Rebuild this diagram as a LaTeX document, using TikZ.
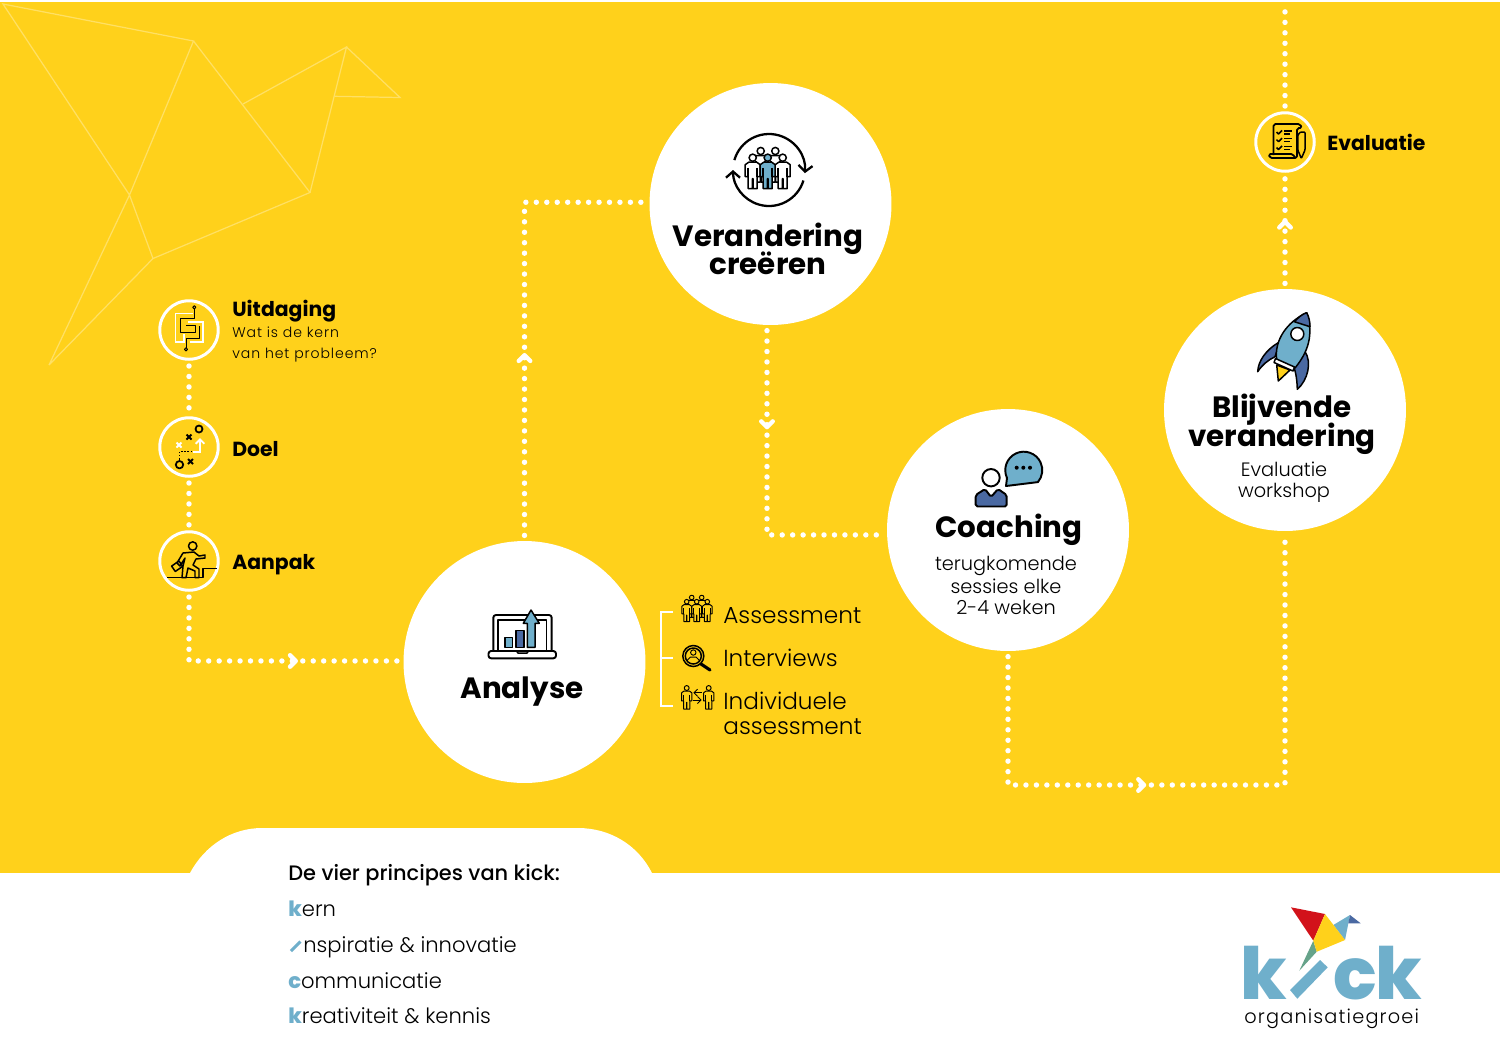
\documentclass[tikz,border=0pt]{standalone}
\usepackage{fontspec}
\setmainfont{Poppins}
\newfontfamily\lightfont{Poppins Light}
\newfontfamily\mediumfont{Poppins Medium}
\newfontfamily\heavyfont{Poppins ExtraBold}
\usetikzlibrary{arrows.meta,decorations.markings}
\definecolor{kickyellow}{RGB}{255,209,27}
\definecolor{foldline}{RGB}{255,224,100}
\definecolor{kickblue}{RGB}{111,175,203}
\definecolor{kickdark}{RGB}{74,105,162}
\definecolor{kickred}{RGB}{210,18,26}
\definecolor{kickgreen}{RGB}{102,163,138}
\newcommand{\fs}[1]{\fontsize{#1}{#1}\selectfont}
\tikzset{
  bigstep/.style={circle,fill=white,minimum size=4.84cm,inner sep=0pt},
  smallstep/.style={circle,draw=white,line width=1.7pt,minimum size=1.17cm,inner sep=0pt},
  dotline/.style={draw=white,line width=3.1pt,line cap=round,dash pattern=on 0pt off 5.95pt,shorten <=3pt,shorten >=3pt},
  chevron/.style={postaction={decorate,decoration={markings,mark=at position #1 with {\draw[white,solid,line width=2.5pt,line cap=round,line join=round] (-5.5,-9.5)--(4,0)--(-5.5,9.5);}}}},
  fold/.style={draw=foldline,line width=.7pt},
  icon/.style={draw=black,line width=.85pt,line join=round},
  thinicon/.style={draw=black,line width=.55pt,line join=round},
  title/.style={font=\fs{16.7}\bfseries,align=center,inner sep=0pt},
  sublabel/.style={font=\fs{11}\lightfont,align=center,inner sep=0pt},
  sidehead/.style={font=\fs{11.6}\bfseries,anchor=base west,inner sep=0pt},
  sidetext/.style={font=\fs{8}\lightfont\addfontfeatures{LetterSpace=6.5},anchor=base west,inner sep=0pt},
  methodtext/.style={font=\fs{13.2}\lightfont,anchor=base west,inner sep=0pt},
  listtext/.style={font=\fs{12}\lightfont,anchor=base west,inner sep=0pt},
  logoletter/.style={font=\fs{41}\heavyfont,text=kickblue,anchor=base west,inner sep=0pt},
  pics/figure/.style={code={
    \draw[pic actions] (0,0) circle (3.6);
    \draw[pic actions] (-7.5,7)--(-4,4.5)--(4,4.5)--(7.5,7)--(7.5,19)--(4.5,19)--(4.5,31)--(.3,31)--(.3,21)--(-.3,21)--(-.3,31)--(-4.5,31)--(-4.5,19)--(-7.5,19)--cycle;
    \draw[pic actions] (-4.5,10)--(-4.5,19) (4.5,10)--(4.5,19);
  }},
  pics/cross/.style={code={\draw[line width=1.1pt] (-2.5,-2.5)--(2.5,2.5) (-2.5,2.5)--(2.5,-2.5);}}
}
\begin{document}
\begin{tikzpicture}[x=0.02cm,y=-0.02cm]
\useasboundingbox (0,0) rectangle (1500,1063);
\fill[white] (0,0) rectangle (1500,1063);
\fill[kickyellow] (0,2) rectangle (1500,873);
\fill[white] (190,873) .. controls (205,845) and (232,828) .. (262,828) -- (578,828) .. controls (610,828) and (638,845) .. (652,873) -- cycle;

\draw[fold] (49,365)--(129.5,195)--(3,4)--(193.5,41)--(129.5,195)--(153,258.5)--(49,365);
\draw[fold] (153,258.5)--(310,192.5)--(193.5,41);
\draw[fold] (243,104)--(346.5,47)--(310,192.5);
\draw[fold] (346.5,47)--(400,97.5)--(334.5,96.3);

\node[bigstep] (verandering) at (770.5,204) {};
\node[bigstep] (analyse) at (524.5,662) {};
\node[bigstep] (coaching) at (1008,530) {};
\node[bigstep] (blijvende) at (1285,410) {};
\node[smallstep] (uitdaging) at (189,330) {};
\node[smallstep] (doel) at (189,447) {};
\node[smallstep] (aanpak) at (189,561) {};
\node[smallstep] (evaluatie) at (1285,142) {};
\coordinate (topend) at (1285,2);
\coordinate (lowbend) at (1285,785);

\draw[dotline] (uitdaging) -- (doel);
\draw[dotline] (doel) -- (aanpak);
\draw[dotline,chevron=.607] (aanpak) |- ([yshift=.6pt]analyse.west);
\draw[dotline,chevron=.392] (analyse.north) |- ([yshift=1pt]verandering.west);
\draw[dotline,chevron=.297] ([xshift=-2pt]verandering.south) |- ([yshift=-2.8pt]coaching.west);
\draw[dotline,chevron=.40] (coaching.south) |- (lowbend) -- (blijvende.south);
\draw[dotline,chevron=.543] (blijvende.north) -- (evaluatie);
\draw[dotline] (evaluatie) -- (topend);

\node[title] (verandertitle) at (768,249) {Verandering\\[-2.5pt]creëren};
\node[title,anchor=base] (analysetitle) at (522,698) {Analyse};
\node[title,anchor=base] (coachingtitle) at (1009,537) {Coaching};
\node[title] (blijvendetitle) at (1282,424.5) {Blijvende\\[-2.5pt]verandering};
\node[sublabel] (coachingtext) at (1006,585.5) {terugkomende\\[.9pt]sessies elke\\[.9pt]2-4 weken};
\node[sublabel] (blijvendetext) at (1284,482.5) {Evaluatie\\[.9pt]workshop};

\node[sidehead] (uitdagingtitle) at (232,316) {Uitdaging};
\node[sidetext] (uitdagingtext) at (232,337) {Wat is de kern};
\node[sidetext] (uitdagingtext2) at (232,358) {van het probleem?};
\node[sidehead] (doeltitle) at (232,456) {Doel};
\node[sidehead] (aanpaktitle) at (232,569) {Aanpak};
\node[sidehead] (evaluatietitle) at (1327,150) {Evaluatie};

\node[methodtext] (assessment) at (723,623) {Assessment};
\node[methodtext] (interviews) at (723,666) {Interviews};
\node[methodtext] (individueel) at (723,709) {Individuele};
\node[methodtext] (individueel2) at (723,734) {assessment};
\draw[white,line width=1.2pt] (673,611.7)--(660.7,611.7)--(660.7,706)--(673,706) (660.7,658.3)--(673,658.3);

\node[listtext,font=\fs{11.9}\mediumfont] (principes) at (288,880) {De vier principes van kick:};
\node[listtext] (kern) at (288,916) {{\color{kickblue}\heavyfont k}ern};
\draw[kickblue,line width=1.7pt] (291,951)--(300.5,941.5);
\node[listtext] (inspiratie) at (303,952) {nspiratie \& innovatie};
\node[listtext] (communicatie) at (288,988) {{\color{kickblue}\heavyfont c}ommunicatie};
\node[listtext] (kreativiteit) at (288,1023) {{\color{kickblue}\heavyfont k}reativiteit \& kennis};

% maze
\draw[white,line width=1pt] (193,313.5)--(175.5,313.5)--(175.5,342)--(184,342)--(184,334);
\draw[white,line width=1pt] (188,322)--(203,322)--(203,342)--(190,342);
\draw[thinicon] (194.3,309)--(194.3,318)--(180,318)--(180,332)--(195,332)--(195,325)--(186,325);
\draw[thinicon] (186,347.5)--(186,338)--(199,338)--(199,326);
\draw[thinicon] (194.3,307.3) circle (1.6) (186,349.3) circle (1.6);

% doel
\draw[icon,line width=1pt] (199,429) circle (3.5) (179.5,464.7) circle (3.7);
\pic[black] at (189,437) {cross};
\pic[black] at (190.5,461.5) {cross};
\pic[white] at (179,445) {cross};
\draw[white,line width=1.1pt,-{Straight Barb[length=2.5pt,width=5pt]}] (193,451.7)--(200,451.7)--(200,438);
\draw[black,line width=.8pt,densely dotted] (192,451.7)--(179.5,451.7)--(179.5,460);

% aanpak
\draw[icon] (167,577.7)--(203,577.7)--(203,568.3)--(217,568.3);
\draw[icon] (192.7,546) circle (4.2);
\draw[icon] (183,553)--(194,552)--(199,556)--(205,555)--(205,558)--(196,559)--(193,565)--(199,569)--(199,577.7)--(195,577.7)--(195,571)--(188,568)--(186,577.7)--(182,577.7)--(183,566)--(185,558)--(180,566)--(177,563)--cycle;
\draw[icon,rotate around={35:(177,566)}] (172.5,563) rectangle (181.5,569.5);

% evaluatie
\draw[icon,line width=1pt,rounded corners=1pt] (1273.5,155)--(1273.5,124)--(1300,124)--(1302,128)--(1297,128)--(1297,158)--(1270,158)--(1268.5,154)--(1293,154)--(1295,158);
\draw[icon,rounded corners=.5pt] (1300.5,132)--(1305,132)--(1305,150)--(1301.3,158.5)--(1297.8,150)--(1297.8,135)--(1300.5,132);
\foreach \rowy in {131,138.7,146.5} {
  \draw[icon] (1276.5,\rowy+1)--(1278.5,\rowy+3)--(1282,\rowy-.5);
  \draw[icon] (1284,\rowy)--(1291.5,\rowy) (1284,\rowy+3)--(1290,\rowy+3);
}

% verandering
\pic[fill=white,icon] at (760.7,151) {figure};
\pic[fill=white,icon] at (775.3,151) {figure};
\pic[fill=white,icon] at (752.7,157.7) {figure};
\pic[fill=white,icon] at (782.7,157.7) {figure};
\pic[fill=kickblue,icon] at (767.7,157.7) {figure};
\draw[line width=1.3pt,-{Straight Barb[length=3.5pt,width=8pt]}] (769,170) ++(196:36) arc (196:365:36);
\draw[line width=1.3pt,-{Straight Barb[length=3.5pt,width=8pt]}] (769,170) ++(17:36) arc (17:180:36);

% analyse
\draw[icon,line width=1.1pt,fill=white,rounded corners=1.5pt] (493.3,651)--(493.3,615)--(551.7,615)--(551.7,651);
\draw[icon] (498,651)--(498,620)--(546.7,620)--(546.7,651);
\draw[icon,line width=1.1pt,fill=white,rounded corners=1.5pt] (488.5,651)--(556,651)--(556,658.3)--(488.5,658.3)--cycle;
\draw[icon] (516.5,651)--(518,653)--(527,653)--(528.5,651);
\draw[icon,fill=kickblue] (505,637.3) rectangle (512.3,647.3);
\draw[icon,fill=kickdark] (516,630.7) rectangle (524,647.3);
\draw[icon,fill=kickblue] (527.3,647.3)--(527.3,623.3)--(523.3,623.3)--(531,610)--(539.3,623.3)--(535,623.3)--(535,647.3)--cycle;

% assessment
\begin{scope}[thinicon]
\pic[fill=kickyellow,scale=.64] at (691.7,597.5) {figure};
\pic[fill=kickyellow,scale=.64] at (701.7,597.5) {figure};
\pic[fill=kickyellow,scale=.64] at (686.7,601.7) {figure};
\pic[fill=kickyellow,scale=.64] at (707.3,601.7) {figure};
\pic[fill=kickyellow,scale=.64] at (696.7,601.7) {figure};
\end{scope}

% interviews
\draw[icon] (693.3,656) circle (10.5) circle (8);
\draw[thinicon] (693.3,652.5) circle (2.7) (687.5,662)--(687.5,660)--(690.5,657)--(696,657)--(699,660)--(699,662);
\draw[icon,line width=1.8pt,line cap=round] (701,664)--(710,670);

% individuele
\begin{scope}[thinicon]
\pic[fill=kickyellow,scale=.68] at (686.7,688) {figure};
\pic[fill=kickyellow,scale=.68] at (708.7,688) {figure};
\end{scope}
\draw[thinicon,-{Straight Barb[length=2pt,width=4pt]}] (701.7,692.7)--(693.3,692.7);
\draw[thinicon,-{Straight Barb[length=2pt,width=4pt]}] (693.3,700)--(701.7,700);

% coaching
\draw[icon,line width=1.1pt,fill=kickblue] (1006,486) -- (1007,478) arc (155:400:18.5) -- cycle;
\foreach \dotx in {1016.7,1023.3,1030} {\fill (\dotx,467.7) circle (2);}
\draw[icon,line width=1.1pt,fill=white] (991,477.7) circle (8.7);
\draw[icon,line width=1.1pt,fill=kickdark,rounded corners=1pt] (975.7,506.5)--(975.7,495)--(985,489)--(991,497)--(998,489)--(1006.7,495)--(1006.7,506.5)--cycle;

% blijvende
\draw[icon,fill=kickdark] (1280,341.7) .. controls (1265,350) and (1258,362) .. (1257.7,371.7) .. controls (1262,365) and (1268,360) .. (1275,356.7) -- cycle;
\draw[icon,fill=kickdark] (1305,351.7) .. controls (1312,362) and (1308,380) .. (1297.3,389.3) .. controls (1297,380) and (1296,372) .. (1293,365) -- cycle;
\draw[icon,fill=kickblue] (1306.7,312.7) .. controls (1314,335) and (1308,352) .. (1295,368) -- (1276.7,360) .. controls (1274,340) and (1287,322) .. (1306.7,312.7) -- cycle;
\draw[icon,fill=kickdark] (1306.7,312.7) .. controls (1302,314) and (1298,318) .. (1294.3,321.7) -- (1310,326.7) .. controls (1310,322) and (1309,317) .. (1306.7,312.7) -- cycle;
\draw[icon,fill=white] (1297.3,334) circle (6.5);
\draw[icon,fill=kickyellow] (1276.7,365) -- (1278.3,381) -- (1290,370) -- cycle;
\draw[icon,fill=white] (1275.5,358.5) -- (1294.5,367) -- (1293,371) -- (1274,362.5) -- cycle;

% logo
\fill[kickgreen] (1313.3,940.7)--(1316.7,951.7)--(1299.3,970.7)--cycle;
\fill[kickblue] (1333.3,925)--(1350,915)--(1345,940)--cycle;
\fill[kickdark] (1350,915)--(1360.7,923.3)--(1348.3,923.3)--cycle;
\fill[kickred] (1291,907.3)--(1325,914)--(1313.3,940.7)--cycle;
\fill[kickyellow] (1325,914)--(1345,940)--(1316.7,951.7)--(1313.3,940.7)--cycle;
\node[logoletter] (logok) at (1240,999.3) {k};
\fill[kickblue] (1320,960)--(1327.7,967.3)--(1297.3,998.7)--(1290,990)--cycle;
\node[logoletter] (logoc) at (1333,999.3) {c};
\node[logoletter] (logok2) at (1375,999.3) {k};
\node[sidetext,font=\fs{11}\lightfont\addfontfeatures{LetterSpace=6}] (logotext) at (1244,1023) {organisatiegroei};
\end{tikzpicture}
\end{document}
